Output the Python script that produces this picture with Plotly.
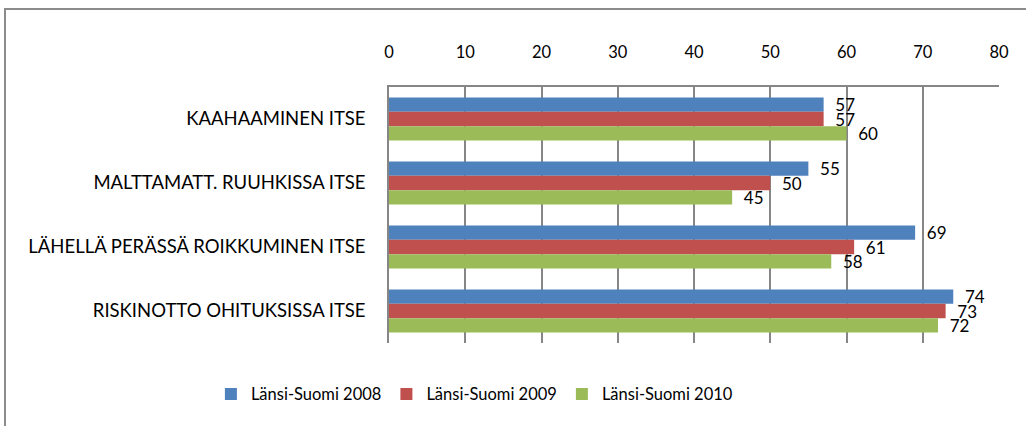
import plotly.graph_objects as go

categories = ['KAAHAAMINEN ITSE', 'MALTTAMATT. RUUHKISSA ITSE',
              'LÄHELLÄ PERÄSSÄ ROIKKUMINEN ITSE', 'RISKINOTTO OHITUKSISSA ITSE']
series_names = ['Länsi-Suomi 2008', 'Länsi-Suomi 2009', 'Länsi-Suomi 2010']
values_2008 = [57, 55, 69, 74]
values_2009 = [57, 50, 61, 73]
values_2010 = [60, 45, 58, 72]
x_ticks = [0, 10, 20, 30, 40, 50, 60, 70, 80]

colors = ['#4F81BD', '#C0504D', '#9BBB59']
font_name = 'Lato, Open Sans, sans-serif'

fig = go.Figure()
for name, vals, col in zip(series_names, [values_2008, values_2009, values_2010], colors):
    fig.add_trace(go.Bar(
        y=categories, x=vals, name=name, orientation='h',
        marker=dict(color=col, line=dict(width=0)),
        text=vals, texttemplate='\u00a0\u00a0%{text}',
        textposition='outside', constraintext='none', cliponaxis=False,
        textfont=dict(size=17, color='black', family=font_name),
    ))

fig.update_layout(
    width=1026, height=426,
    margin=dict(l=389, r=27, t=87, b=83),
    paper_bgcolor='white', plot_bgcolor='white',
    barmode='group', bargap=0.33, bargroupgap=0,
    font=dict(family=font_name, size=15, color='black'),
    showlegend=True,
    legend=dict(orientation='h', x=0.14, xanchor='center', y=-0.2, yanchor='middle',
                font=dict(size=16.5), traceorder='normal', itemwidth=30),
    xaxis=dict(side='top', range=[0, 80], tickvals=x_ticks, showgrid=True,
               gridcolor='#868686', gridwidth=1.5, showline=True, linecolor='#868686',
               linewidth=1.5, zeroline=False, ticks='', ticklabelstandoff=21,
               tickfont=dict(size=16.5)),
    yaxis=dict(autorange='reversed', showline=True, linecolor='#868686', linewidth=1.5,
               ticks='', ticklabelstandoff=18, tickfont=dict(size=18.5), showgrid=False),
    shapes=[dict(type='rect', xref='paper', yref='paper',
                 x0=-0.6295, x1=1.06, y0=-0.35, y1=1.3047,
                 line=dict(color='#8c8c8c', width=2))],
)

fig.write_html('out.html', config={'displayModeBar': False},
               post_script="document.body.style.margin='0';document.body.style.overflow='hidden';")
